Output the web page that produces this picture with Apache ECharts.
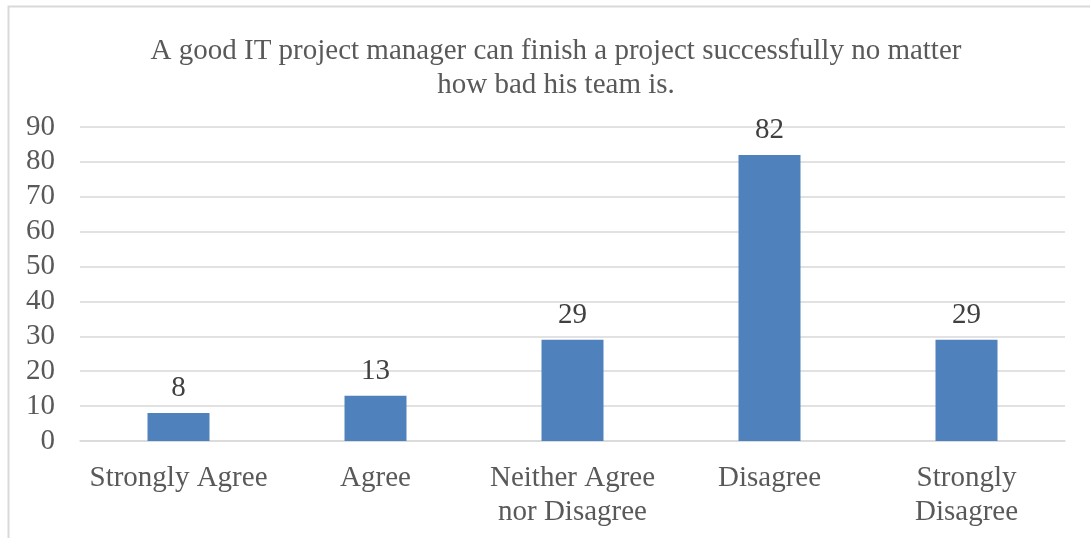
<!DOCTYPE html>
<html>
<head>
<meta charset="utf-8">
<script src="https://cdn.jsdelivr.net/npm/echarts@6/dist/echarts.min.js"></script>
<style>
  html, body { margin: 0; padding: 0; background: #fff; }
  #chart { width: 1090px; height: 538px; }
</style>
</head>
<body>
<div id="chart"></div>
<script>
const categories = ["Strongly Agree", "Agree", "Neither Agree\nnor Disagree", "Disagree", "Strongly\nDisagree"];
const counts = [8, 13, 29, 82, 29];
const titleText = "A good IT project manager can finish a project successfully no matter\nhow bad his team is.";

const font = "'Liberation Serif', 'Times New Roman', serif";
const textColor = "#595959";

const chart = echarts.init(document.getElementById("chart"));
chart.setOption({
  animation: false,
  graphic: [{
    type: "rect",
    shape: { x: 8.5, y: 6.5, width: 1200, height: 700 },
    style: { fill: "none", stroke: "#d9d9d9", lineWidth: 2 },
    silent: true,
  }],
  title: {
    text: titleText,
    left: 551,
    textAlign: "center",
    top: 29,
    textStyle: { fontFamily: font, fontSize: 29, fontWeight: "normal", color: textColor, lineHeight: 34 },
  },
  grid: { left: 80, right: 25, top: 127, bottom: 97, containLabel: false },
  xAxis: {
    type: "category",
    data: categories,
    axisTick: { show: false },
    axisLine: { lineStyle: { color: "#d9d9d9", width: 1.5 } },
    axisLabel: { fontFamily: font, fontSize: 29, color: textColor, lineHeight: 34, margin: 20, interval: 0 },
  },
  yAxis: {
    type: "value",
    min: 0,
    max: 90,
    interval: 10,
    axisLine: { show: false },
    axisTick: { show: false },
    splitLine: { lineStyle: { color: "#d9d9d9", width: 1.5 } },
    axisLabel: { fontFamily: font, fontSize: 29, color: textColor, margin: 25 },
  },
  series: [{
    type: "bar",
    data: counts,
    barWidth: 62,
    itemStyle: { color: "#4f81bd" },
    label: { show: true, position: "top", distance: 10, fontFamily: font, fontSize: 29, color: "#404040" },
  }],
});
</script>
</body>
</html>
